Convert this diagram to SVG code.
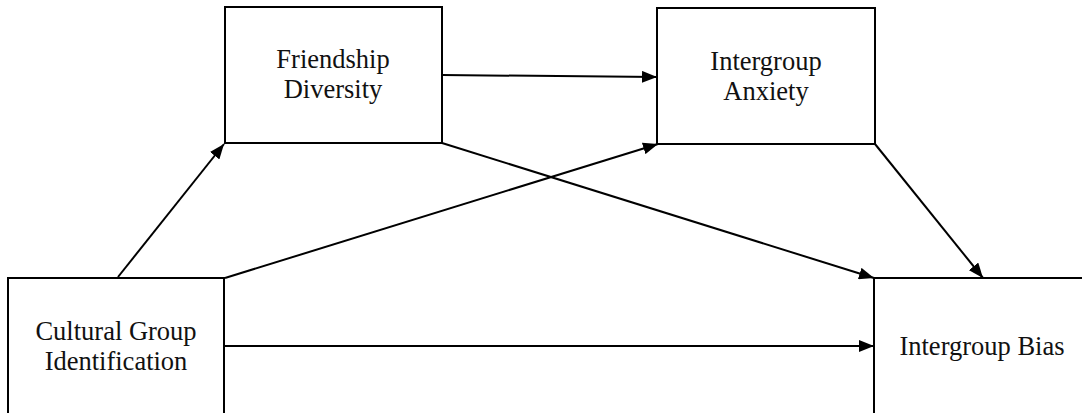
<svg xmlns="http://www.w3.org/2000/svg" width="1082" height="413" viewBox="0 0 1082 413">
<style>
.box{fill:#fff;stroke:#000;stroke-width:2}
.lbl{font-family:"Liberation Serif","Times New Roman",serif;font-size:26.5px;fill:#111;text-anchor:middle}
.edge{stroke:#000;stroke-width:2;fill:none;marker-end:url(#ah)}
</style>
<defs>
<marker id="ah" markerUnits="userSpaceOnUse" markerWidth="16" markerHeight="12" refX="15" refY="6" orient="auto">
<path d="M0,0 L15,6 L0,12 z" fill="#000"/>
</marker>
</defs>
<rect width="1082" height="413" fill="#fff"/>
<g id="connectors">
<line class="edge" x1="118" y1="277" x2="224" y2="144"/>
<line class="edge" x1="225" y1="278" x2="658" y2="144"/>
<line class="edge" x1="225" y1="346" x2="874" y2="346"/>
<line class="edge" x1="442" y1="75" x2="657" y2="77"/>
<line class="edge" x1="442" y1="143" x2="874" y2="278"/>
<line class="edge" x1="875" y1="144" x2="983" y2="278"/>
</g>
<g id="cultural">
<rect class="box" x="8" y="278" width="216" height="145"/>
<text class="lbl" x="116" y="340">Cultural Group</text>
<text class="lbl" x="116" y="370">Identification</text>
</g>
<g id="friendship">
<rect class="box" x="225" y="7" width="217" height="136"/>
<text class="lbl" x="333" y="68">Friendship</text>
<text class="lbl" x="333" y="98">Diversity</text>
</g>
<g id="anxiety">
<rect class="box" x="657" y="8" width="218" height="136"/>
<text class="lbl" x="766" y="70">Intergroup</text>
<text class="lbl" x="766" y="100">Anxiety</text>
</g>
<g id="bias">
<rect class="box" x="874" y="278" width="220" height="145"/>
<text class="lbl" x="982" y="355">Intergroup Bias</text>
</g>
</svg>
